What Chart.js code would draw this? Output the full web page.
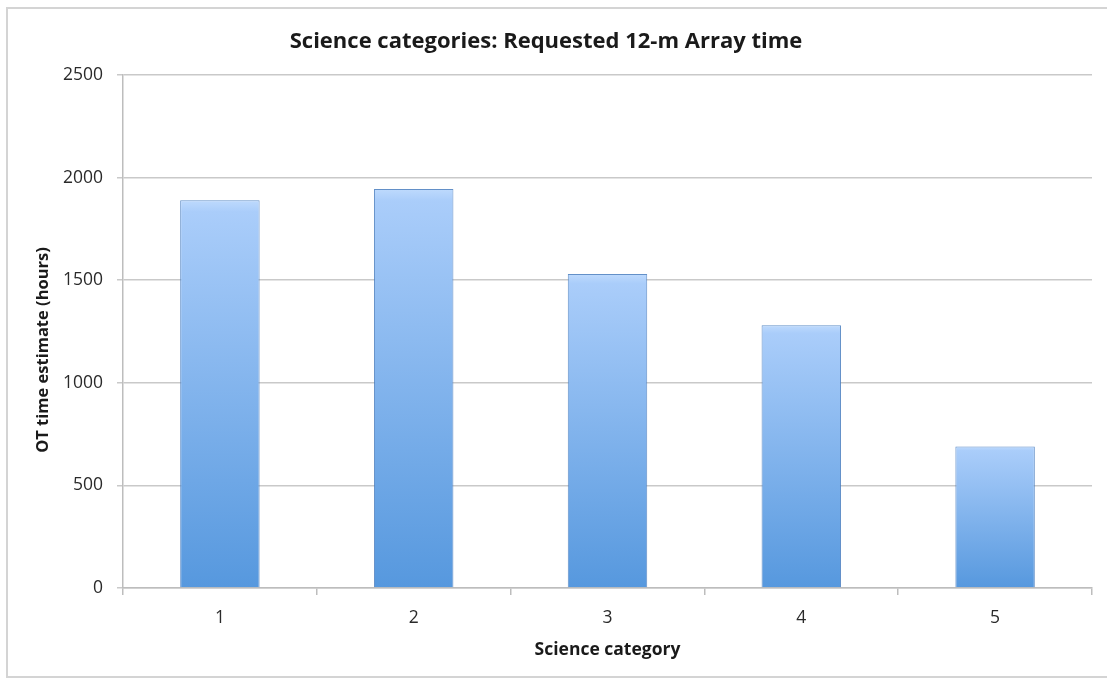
<!DOCTYPE html>
<html>
<head>
<meta charset="utf-8">
<script src="https://cdn.jsdelivr.net/npm/chart.js@4/dist/chart.umd.min.js"></script>
<style>
  html, body { margin: 0; padding: 0; background: #fff; }
  #wrap { position: relative; width: 1107px; height: 679px; }
</style>
</head>
<body>
<div id="wrap"><canvas id="c" width="1107" height="679"></canvas></div>
<script>
const categories = ['1', '2', '3', '4', '5'];
const otHours = [1890, 1945, 1530, 1280, 690];
const yTicks = [0, 500, 1000, 1500, 2000, 2500];
const chartTitle = 'Science categories: Requested 12-m Array time';
const xTitle = 'Science category';
const yTitle = 'OT time estimate (hours)';

const FONT = '"Open Sans", sans-serif';

function barFill(ctx) {
  const chart = ctx.chart;
  if (!chart.chartArea || ctx.raw == null) return '#7fb2ee';
  const ys = chart.scales.y;
  const top = ys.getPixelForValue(ctx.raw);
  const bot = ys.getPixelForValue(0);
  const g = chart.ctx.createLinearGradient(0, top, 0, bot);
  g.addColorStop(0, 'rgb(190,218,253)');
  g.addColorStop(0.03, 'rgb(170,205,250)');
  g.addColorStop(1, 'rgb(86,152,222)');
  return g;
}

const frame = {
  id: 'frame',
  beforeDraw(chart) {
    const c = chart.ctx;
    c.save();
    c.fillStyle = '#fff';
    c.fillRect(0, 0, chart.width, chart.height);
    c.strokeStyle = '#d4d4d4';
    c.lineWidth = 2;
    c.strokeRect(7, 8, chart.width + 20, chart.height - 10);
    c.restore();
  }
};

const yTitlePlugin = {
  id: 'yTitlePlugin',
  afterDraw(chart) {
    const c = chart.ctx;
    c.save();
    c.translate(43, 350);
    c.rotate(-Math.PI / 2);
    c.fillStyle = '#1a1a1a';
    c.font = 'bold 16.5px ' + FONT;
    c.textAlign = 'center';
    c.textBaseline = 'middle';
    c.fillText(yTitle, 0, 0);
    c.restore();
  }
};

new Chart(document.getElementById('c'), {
  type: 'bar',
  data: {
    labels: categories,
    datasets: [{
      data: otHours,
      backgroundColor: barFill,
      borderColor: 'rgba(72,124,190,0.85)',
      borderWidth: 1,
      categoryPercentage: 1,
      barPercentage: 0.41
    }]
  },
  options: {
    responsive: false,
    animation: false,
    devicePixelRatio: 1,
    layout: { padding: { left: 0, right: 15, top: 0, bottom: 0 } },
    plugins: {
      legend: { display: false },
      tooltip: { enabled: false },
      title: {
        display: true,
        text: chartTitle,
        color: '#1a1a1a',
        font: { family: FONT, size: 22, weight: 'bold' },
        padding: { top: 29, bottom: 19.6 }
      }
    },
    scales: {
      x: {
        afterFit(s) { s.height = 91; },
        grid: { display: true, drawOnChartArea: false, drawTicks: true, tickLength: 7, color: '#bdbdbd', lineWidth: 1.5, offset: true },
        border: { display: true, color: '#bdbdbd', width: 1.5 },
        ticks: { color: '#2a2a2a', font: { family: FONT, size: 17.5 }, padding: 13 },
        title: { display: true, text: xTitle, color: '#1a1a1a', font: { family: FONT, size: 17.5, weight: 'bold' }, padding: { top: 0, bottom: 18 } }
      },
      y: {
        min: 0, max: 2500,
        afterFit(s) { s.width = 123; },
        afterBuildTicks(s) { s.ticks = yTicks.map(v => ({ value: v })); },
        grid: { color: '#c9c9c9', lineWidth: 1.5, tickLength: 6, drawTicks: true },
        border: { display: true, color: '#bdbdbd', width: 1.5 },
        ticks: { color: '#2a2a2a', font: { family: FONT, size: 17.5 }, padding: 14, callback: v => String(v) },
        title: { display: false }
      }
    }
  },
  plugins: [frame, yTitlePlugin]
});
</script>
</body>
</html>
